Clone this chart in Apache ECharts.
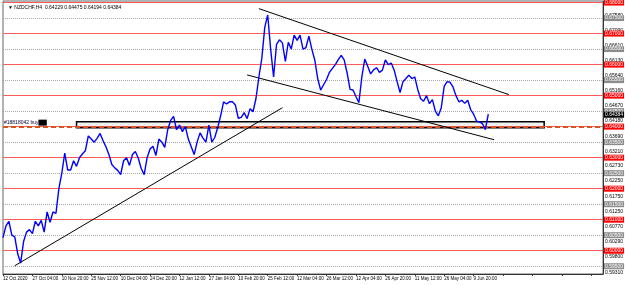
<!DOCTYPE html>
<html>
<head>
<meta charset="utf-8">
<script src="https://cdn.jsdelivr.net/npm/echarts@6/dist/echarts.min.js"></script>
<style>
  html, body { margin: 0; padding: 0; background: #fff; }
  #chart { width: 625px; height: 285px; }
</style>
</head>
<body>
<div id="chart"></div>
<script>
// NZDCHF H4 closes, one per slot
const prices = [
  0.6042, 0.6080, 0.6095, 0.6050, 0.6045, 0.5990, 0.5960, 0.6030, 0.6060, 0.6068, 0.6055,
  0.6095, 0.6080, 0.6098, 0.6060, 0.6125, 0.6092, 0.6125, 0.6120, 0.6200, 0.6250,
  0.6315, 0.6260, 0.6260, 0.6290, 0.6272, 0.6300, 0.6312, 0.6322, 0.6370, 0.6360,
  0.6350, 0.6362, 0.6378, 0.6355, 0.6335, 0.6310, 0.6278, 0.6267, 0.6259, 0.6245,
  0.6290, 0.6300, 0.6275, 0.6310, 0.6320, 0.6298, 0.6265, 0.6245, 0.6300, 0.6328,
  0.6337, 0.6307, 0.6360, 0.6350, 0.6333, 0.6390, 0.6420, 0.6433, 0.6390, 0.6405,
  0.6384, 0.6400, 0.6360, 0.6335, 0.6310, 0.6350, 0.6380, 0.6363, 0.6350, 0.6405,
  0.6350, 0.6365, 0.6397, 0.6435, 0.6480, 0.6473, 0.6480, 0.6480, 0.6470, 0.6427,
  0.6430, 0.6445, 0.6426, 0.6458, 0.6448, 0.6490, 0.6560, 0.6620, 0.6720, 0.6760,
  0.6650, 0.6560, 0.6665, 0.6680, 0.6670, 0.6610, 0.6672, 0.6650, 0.6695, 0.6678,
  0.6695, 0.6650, 0.6655, 0.6692, 0.6650, 0.6615, 0.6555, 0.6518, 0.6535, 0.6552,
  0.6575, 0.6588, 0.6600, 0.6616, 0.6630, 0.6615, 0.6573, 0.6520, 0.6518, 0.6497,
  0.6477, 0.6560, 0.6618, 0.6595, 0.6570, 0.6583, 0.6590, 0.6575, 0.6582, 0.6615,
  0.6600, 0.6605, 0.6582, 0.6545, 0.6510, 0.6545, 0.6555, 0.6566, 0.6555, 0.6560,
  0.6520, 0.6490, 0.6482, 0.6500, 0.6474, 0.6487, 0.6450, 0.6435, 0.6460, 0.6530,
  0.6545, 0.6543, 0.6528, 0.6500, 0.6480, 0.6485, 0.6475, 0.6485, 0.6455, 0.6440,
  0.6418, 0.6415, 0.6410, 0.6390, 0.6440
];

// one time label every 10 slots
const xLabels = [
  '12 Oct 2020', '27 Oct 04:00', '10 Nov 20:00', '25 Nov 12:00', '10 Dec 04:00',
  '24 Dec 20:00', '12 Jan 12:00', '27 Jan 04:00', '10 Feb 20:00', '25 Feb 12:00',
  '12 Mar 04:00', '26 Mar 12:00', '12 Apr 04:00', '26 Apr 20:00', '11 May 12:00',
  '26 May 04:00', '9 Jun 20:00'
];
const slotCount = 205;
const slots = Array.from({ length: slotCount }, (_, i) => String(i));

const priceTicks = [
  0.67580, 0.67090, 0.66610, 0.66130, 0.65640, 0.65160, 0.64670, 0.64180, 0.63690,
  0.63210, 0.62730, 0.62250, 0.61750, 0.61250, 0.60770, 0.60290, 0.59800, 0.59310
];
const redLevels = [0.68, 0.67, 0.66, 0.65, 0.64, 0.63, 0.62, 0.61, 0.60];
const greyLevels = [0.675, 0.665, 0.655, 0.645, 0.635, 0.625, 0.615, 0.605, 0.595];
const orderLevel = 0.64;
const lastPrice = 0.64384;
const zonePrices = [0.64158, 0.63965];
const zoneSlots = [25, 184];
const supportLine = [[4, 0.59516], [95, 0.64610]];
const channelTop = [[87, 0.67804], [172, 0.65032]];
const channelBottom = [[83, 0.65667], [167, 0.63578]];

const font = 'Liberation Sans';
const chart = echarts.init(document.getElementById('chart'));

const axisTag = (bg, color) => ({
  show: true,
  position: 'end',
  distance: 1,
  formatter: p => p.value.toFixed(5),
  color: color,
  backgroundColor: bg,
  padding: [1, 1, 0, 1],
  fontSize: 5,
  fontFamily: font
});

const levelData = [
  ...priceTicks.map(v => ({
    yAxis: v,
    lineStyle: { color: 'rgba(0,0,0,0)', width: 1 },
    label: axisTag('rgba(0,0,0,0)', '#000')
  })),
  ...greyLevels.map(v => ({
    yAxis: v,
    lineStyle: { color: '#a8a8a8', type: 'dotted', width: 1 },
    label: axisTag('#8c8c8c', '#fff')
  })),
  ...redLevels.map(v => ({
    yAxis: v,
    lineStyle: { color: '#ff5a5a', type: 'solid', width: 1 },
    label: axisTag('#ff0000', '#fff')
  })),
  {
    yAxis: orderLevel,
    lineStyle: { color: '#d9531e', type: [5, 3], width: 2 },
    label: {
      show: true,
      position: 'insideStartTop',
      distance: 1,
      formatter: '{t|#18818042 buy}{b|      }',
      rich: {
        t: { fontSize: 5, color: '#000033', fontFamily: font },
        b: { backgroundColor: '#000', height: 6, fontSize: 5 }
      }
    }
  },
  {
    yAxis: lastPrice,
    lineStyle: { color: 'rgba(0,0,0,0)', width: 1 },
    label: axisTag('#000', '#fff')
  }
];

const trend = pts => [{ coord: [String(pts[0][0]), pts[0][1]] }, { coord: [String(pts[1][0]), pts[1][1]] }];

chart.setOption({
  animation: false,
  title: {
    text: '▼ NZDCHF,H4  0.64229 0.64475 0.64194 0.64384',
    left: 3,
    top: 0,
    textStyle: { fontSize: 5, fontWeight: 'normal', color: '#000', fontFamily: font }
  },
  grid: { left: 2, right: 22, top: 1, bottom: 11, show: true, borderColor: '#666', borderWidth: 1 },
  xAxis: {
    type: 'category',
    data: slots,
    boundaryGap: false,
    axisLine: { lineStyle: { color: '#333' } },
    axisTick: { show: true, interval: 9, length: 2, lineStyle: { color: '#333' } },
    axisLabel: {
      interval: 9,
      showMinLabel: true,
      align: 'left',
      margin: 2,
      fontSize: 4.5,
      fontFamily: font,
      color: '#000',
      formatter: (v, i) => xLabels[i / 10] || ''
    },
    splitLine: { show: false }
  },
  yAxis: {
    type: 'value',
    position: 'right',
    min: 0.5925,
    max: 0.6805,
    axisLine: { show: true, lineStyle: { color: '#333' } },
    axisTick: { show: false },
    axisLabel: { show: false },
    splitLine: { show: false }
  },
  series: [
    {
      name: 'levels',
      type: 'line',
      data: [],
      silent: true,
      markLine: {
        symbol: 'none',
        silent: true,
        animation: false,
        precision: 5,
        data: levelData
      }
    },
    {
      name: 'NZDCHF',
      type: 'line',
      data: prices,
      showSymbol: false,
      silent: true,
      lineStyle: { color: '#0000ff', width: 1.4 },
      z: 5,
      markArea: {
        silent: true,
        itemStyle: { color: 'rgba(225,225,225,0.45)', borderColor: '#000', borderWidth: 1.5 },
        data: [[
          { xAxis: String(zoneSlots[0]), yAxis: zonePrices[0] },
          { xAxis: String(zoneSlots[1]), yAxis: zonePrices[1] }
        ]]
      },
      markLine: {
        symbol: 'none',
        silent: true,
        animation: false,
        precision: 5,
        label: { show: false },
        lineStyle: { color: '#000', type: 'solid', width: 1 },
        data: [trend(supportLine), trend(channelTop), trend(channelBottom)]
      }
    }
  ]
});
</script>
</body>
</html>
